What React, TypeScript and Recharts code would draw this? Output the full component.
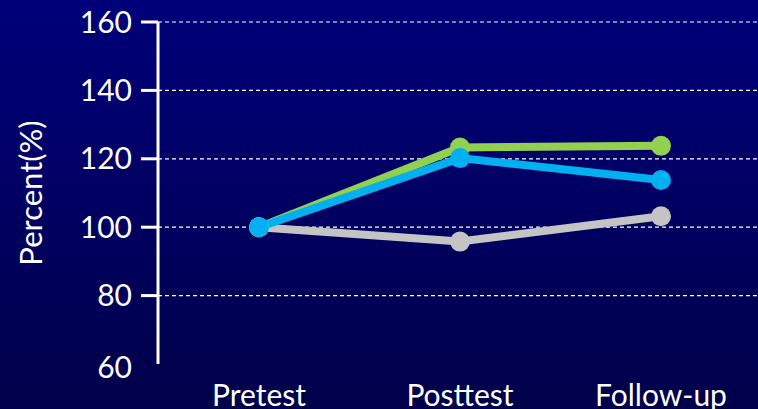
import { LineChart, Line, XAxis, YAxis, CartesianGrid } from "recharts";

const phases = ["Pretest", "Posttest", "Follow-up"];
const greenSeries = [100, 123.3, 123.8];
const blueSeries = [100, 120.2, 113.8];
const graySeries = [100, 95.8, 103.2];
const yTicks = [60, 80, 100, 120, 140, 160];
const gridValues = [80, 100, 120, 140, 160];

const data = phases.map((phase, i) => ({
  phase,
  green: greenSeries[i],
  blue: blueSeries[i],
  gray: graySeries[i],
}));

const font = "Lato, 'Open Sans', sans-serif";

// y tick: short white mark left of the axis (none at the bottom value) + label
const YTick = (props: any) => {
  const { x, y, payload } = props;
  const axisX = x + 25;
  return (
    <g>
      {payload.value !== yTicks[0] && (
        <line x1={axisX - 17} y1={y} x2={axisX} y2={y} stroke="#ffffff" strokeWidth={3} />
      )}
      <text
        x={axisX - 26}
        y={payload.value === yTicks[0] ? y + 3 : y}
        dy="0.355em"
        textAnchor="end"
        fill="#ffffff"
        fontSize={30}
        fontFamily={font}
      >
        {payload.value}
      </text>
    </g>
  );
};

export default function App() {
  return (
    <div
      style={{
        position: "fixed",
        left: 0,
        top: 0,
        width: 758,
        height: 409,
        background: "linear-gradient(to bottom, #00007a 0%, #000062 50%, #00004a 100%)",
        fontFamily: font,
      }}
    >
      <LineChart width={758} height={409} data={data} margin={{ top: 22, right: -4, left: 0, bottom: 0 }}>
        <CartesianGrid
          stroke="#ffffff"
          strokeWidth={1.2}
          strokeDasharray="4 3"
          vertical={false}
          horizontalValues={gridValues}
        />
        <XAxis
          dataKey="phase"
          axisLine={false}
          tickLine={false}
          tickSize={0}
          tickMargin={21}
          height={45}
          padding={{ left: 101, right: 101 }}
          tick={{ fill: "#ffffff", fontSize: 30, fontFamily: font }}
        />
        <YAxis
          domain={[60, 160]}
          ticks={yTicks}
          width={158}
          tickSize={17}
          tickMargin={8}
          axisLine={{ stroke: "#ffffff", strokeWidth: 3 }}
          tickLine={false}
          tick={YTick}
          label={{
            value: "Percent(%)",
            angle: -90,
            position: "insideLeft",
            offset: 31,
            style: { fill: "#ffffff", fontSize: 31, fontFamily: font, textAnchor: "middle" },
          }}
        />
        <Line
          dataKey="gray"
          stroke="#c4c4c4"
          strokeWidth={8}
          dot={{ r: 10, fill: "#c4c4c4", stroke: "none" }}
          isAnimationActive={false}
        />
        <Line
          dataKey="green"
          stroke="#92d050"
          strokeWidth={8}
          dot={{ r: 10, fill: "#92d050", stroke: "none" }}
          isAnimationActive={false}
        />
        <Line
          dataKey="blue"
          stroke="#00b0f0"
          strokeWidth={8}
          dot={{ r: 10, fill: "#00b0f0", stroke: "none" }}
          isAnimationActive={false}
        />
      </LineChart>
    </div>
  );
}
